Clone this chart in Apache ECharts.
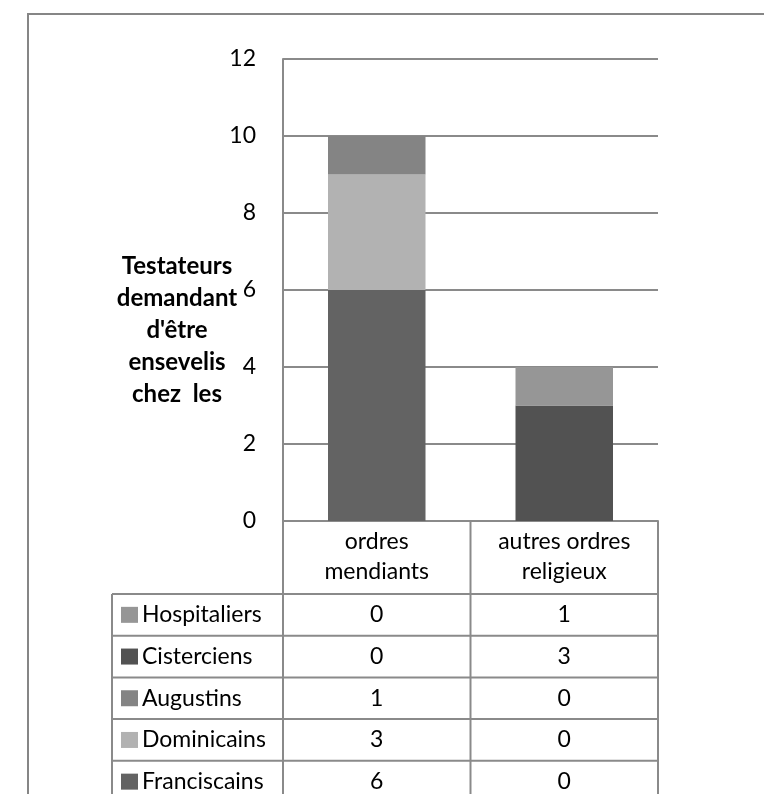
<!DOCTYPE html>
<html>
<head>
<meta charset="utf-8">
<script src="https://cdn.jsdelivr.net/npm/echarts@6/dist/echarts.min.js"></script>
<style>
  html, body { margin: 0; background: #fff; }
  #main { width: 764px; height: 794px; }
</style>
</head>
<body>
<div id="main"></div>
<script>
// données
const categories = ['ordres\nmendiants', 'autres ordres\nreligieux'];
const seriesNames = ['Franciscains', 'Dominicains', 'Augustins', 'Cisterciens', 'Hospitaliers'];
const franciscains = [6, 0];
const dominicains = [3, 0];
const augustins = [1, 0];
const cisterciens = [0, 3];
const hospitaliers = [0, 1];
const yTicks = [0, 2, 4, 6, 8, 10, 12];
const axisTitle = "Testateurs\ndemandant\nd'être\nensevelis\nchez  les";

const seriesData = [franciscains, dominicains, augustins, cisterciens, hospitaliers];
const colors = ['#636363', '#b2b2b2', '#848484', '#525252', '#969696'];
const font = 'Lato, "Open Sans", sans-serif';
const fs = 23;
const lineColor = '#8a8a8a';

const chart = echarts.init(document.getElementById('main'));

chart.setOption({
  animation: false,
  grid: { left: 283, right: 106, top: 59, bottom: 273 },
  xAxis: {
    type: 'category',
    data: categories,
    axisLine: { lineStyle: { color: lineColor, width: 2 } },
    axisTick: { show: false },
    axisLabel: { show: false }
  },
  yAxis: {
    type: 'value',
    min: yTicks[0],
    max: yTicks[yTicks.length - 1],
    interval: yTicks[1] - yTicks[0],
    axisLine: { show: true, lineStyle: { color: lineColor, width: 2 } },
    axisTick: { show: false },
    axisLabel: { color: '#000', fontSize: fs, fontFamily: font, margin: 27 },
    splitLine: { lineStyle: { color: lineColor, width: 2 } }
  },
  series: seriesNames.map((name, i) => ({
    name,
    type: 'bar',
    stack: 'total',
    barWidth: '52%',
    itemStyle: { color: colors[i] },
    data: seriesData[i]
  }))
});

// tableau de données sous le graphique
const c0 = chart.convertToPixel({ xAxisIndex: 0 }, 0);
const c1 = chart.convertToPixel({ xAxisIndex: 0 }, 1);
const band = c1 - c0;
const colX = [c0 - band / 2, c0 + band / 2, c1 + band / 2];
const yBase = chart.convertToPixel({ yAxisIndex: 0 }, 0);
const headH = 73, rowH = 41.7, legendLeft = 112;
const rowTop = yBase + headH;
const rowOrder = [4, 3, 2, 1, 0];
const tableBottom = rowTop + rowOrder.length * rowH;

const lineStyle = { stroke: lineColor, lineWidth: 2 };
const g = [];
const line = (x1, y1, x2, y2) => g.push({ type: 'line', shape: { x1, y1, x2, y2 }, style: lineStyle, silent: true });

// cadre extérieur
g.push({ type: 'rect', shape: { x: 28, y: 14, width: 900, height: 900 }, style: { fill: null, stroke: '#868686', lineWidth: 2 }, silent: true });

// en-tête
colX.forEach(x => line(x, yBase, x, rowTop));
categories.forEach((c, j) => {
  g.push({ type: 'text', x: (colX[j] + colX[j + 1]) / 2, y: yBase + headH / 2 - 1,
    style: { text: c, fill: '#000', font: fs + 'px ' + font, align: 'center', verticalAlign: 'middle', lineHeight: 30 } });
});

// lignes
for (let r = 0; r <= rowOrder.length; r++) line(legendLeft, rowTop + r * rowH, colX[2], rowTop + r * rowH);
[legendLeft].concat(colX).forEach(x => line(x, rowTop, x, tableBottom));
rowOrder.forEach((si, r) => {
  const cy = rowTop + r * rowH + rowH / 2;
  g.push({ type: 'rect', shape: { x: 121, y: cy - 8, width: 17, height: 16 }, style: { fill: colors[si] } });
  g.push({ type: 'text', x: 142, y: cy, style: { text: seriesNames[si], fill: '#000', font: fs + 'px ' + font, verticalAlign: 'middle' } });
  seriesData[si].forEach((v, j) => {
    g.push({ type: 'text', x: (colX[j] + colX[j + 1]) / 2, y: cy,
      style: { text: String(v), fill: '#000', font: fs + 'px ' + font, align: 'center', verticalAlign: 'middle' } });
  });
});

// titre de l'axe
g.push({ type: 'text', x: 177, y: 330,
  style: { text: axisTitle, fill: '#000', font: 'bold 24px ' + font, align: 'center', verticalAlign: 'middle', lineHeight: 32 } });

chart.setOption({ graphic: g });
</script>
</body>
</html>
